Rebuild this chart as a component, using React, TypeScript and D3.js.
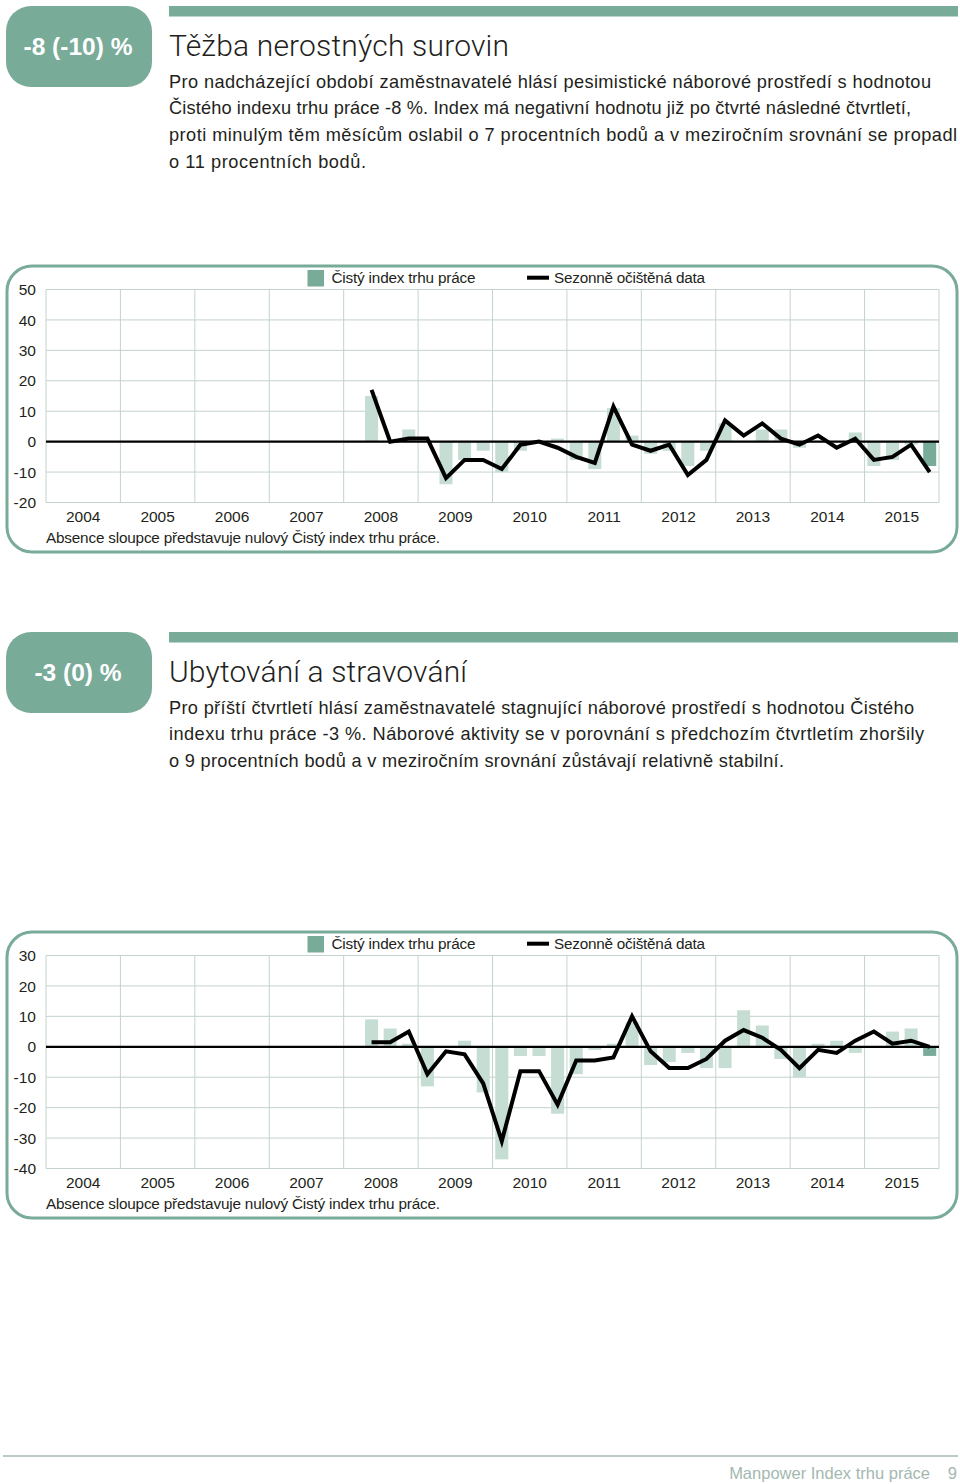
import React from 'react';
import * as d3 from 'd3';

const years = ['2004', '2005', '2006', '2007', '2008', '2009', '2010', '2011', '2012', '2013', '2014', '2015'];
const quarters = ['Q1', 'Q2', 'Q3', 'Q4'];
const quarterKeys = years.flatMap((y) => quarters.map((q) => `${y}${q}`));
const firstQuarter = '2008Q2';

// Section 1 – Těžba nerostných surovin (from 2008 Q2 to 2015 Q4)
const miningBars = [15, 0, 4, 0, -14, -6, -3, -10, -3, 0, 1, -6, -9, 11, 2, -4, -3, -8, -3, 6, 0, 4, 4, -2, 0, 0, 3, -8, -6, -1, -8];
const miningSA = [17, 0, 1, 1, -12, -6, -6, -9, -1, 0, -2, -5, -7, 11.5, -1, -3, -1, -11, -6, 7, 2, 6, 1, -1, 2, -2, 1, -6, -5, -1, -10];
const miningTicks = [50, 40, 30, 20, 10, 0, -10, -20];

// Section 2 – Ubytování a stravování
const hotelBars = [9, 6, 1, -13, 0, 2, -15, -37, -3, -3, -22, -9, -1, 1, 8, -6, -5, -2, -7, -7, 12, 7, -4, -10, 1, 2, -2, 0, 5, 6, -3];
const hotelSA = [1.5, 1.5, 5, -9, -1.5, -2.5, -12, -31, -8, -8, -19, -4.5, -4.5, -3.5, 10, -1.5, -7, -7, -4, 2, 5.5, 3, -1, -7, -1, -2, 2, 5, 1, 2, 0];
const hotelTicks = [30, 20, 10, 0, -10, -20, -30, -40];

const legendBar = 'Čistý index trhu práce';
const legendLine = 'Sezonně očištěná data';
const noteText = 'Absence sloupce představuje nulový Čistý index trhu práce.';

const GREEN = '#79ab99';
const LIGHT = '#c5ddd3';
const GRID = '#c3d3cd';
const TEXT = '#231f20';
const SANS = '"Liberation Sans", Arial, Helvetica, sans-serif';

type ChartProps = {
  top: number;
  ticks: number[];
  bars: number[];
  sa: number[];
};

function Chart({ top, ticks, bars, sa }: ChartProps) {
  const left = 46;
  const right = 939;
  const plotTop = top + 23.5;
  const plotBottom = plotTop + 213;
  const x = d3.scaleBand<string>().domain(quarterKeys).range([left, right]).paddingInner(0.3).paddingOuter(0.15);
  const xYear = d3.scaleBand<string>().domain(years).range([left, right]);
  const y = d3.scaleLinear().domain([d3.min(ticks)!, d3.max(ticks)!]).range([plotBottom, plotTop]);
  const start = quarterKeys.indexOf(firstQuarter);
  const keys = quarterKeys.slice(start);
  const cx = (k: string) => (x(k) ?? 0) + x.bandwidth() / 2;
  const line = d3
    .line<number>()
    .x((_, i) => cx(keys[i]))
    .y((d) => y(d));
  const lastKey = keys[keys.length - 1];
  return (
    <g>
      <rect x={7} y={top} width={950} height={286} rx={25} ry={25} fill="#fff" stroke={GREEN} strokeWidth={3} />
      {ticks.map((t) => (
        <line key={'h' + t} x1={left} x2={right} y1={y(t)} y2={y(t)} stroke={GRID} strokeWidth={1} />
      ))}
      {years.map((yr) => (
        <line key={'v' + yr} x1={xYear(yr)!} x2={xYear(yr)!} y1={plotTop} y2={plotBottom} stroke={GRID} strokeWidth={1} />
      ))}
      <line x1={right} x2={right} y1={plotTop} y2={plotBottom} stroke={GRID} strokeWidth={1} />
      {bars.map((v, i) => {
        const k = keys[i];
        if (v === 0) return null;
        return (
          <rect
            key={'b' + k}
            x={x(k)!}
            width={x.bandwidth()}
            y={Math.min(y(v), y(0))}
            height={Math.abs(y(v) - y(0))}
            fill={k === lastKey ? GREEN : LIGHT}
          />
        );
      })}
      <line x1={left} x2={right} y1={y(0)} y2={y(0)} stroke="#000" strokeWidth={2.2} />
      <path d={line(sa)!} fill="none" stroke="#000" strokeWidth={4} strokeLinejoin="miter" />
      {ticks.map((t) => (
        <text key={'yl' + t} x={36} y={y(t)} dy="0.36em" textAnchor="end" fontSize={15.5} fill={TEXT} fontFamily={SANS}>
          {t}
        </text>
      ))}
      {years.map((yr) => (
        <text key={'xl' + yr} x={xYear(yr)! + xYear.bandwidth() / 2} y={top + 256} textAnchor="middle" fontSize={15.5} fill={TEXT} fontFamily={SANS}>
          {yr}
        </text>
      ))}
      <text x={46} y={top + 276.5} fontSize={15.3} fill={TEXT} fontFamily={SANS} textLength={394} lengthAdjust="spacing">
        {noteText}
      </text>
      <rect x={307.5} y={top + 4} width={16.5} height={16.5} fill={GREEN} />
      <text x={331.5} y={top + 16.8} fontSize={15.3} fill={TEXT} fontFamily={SANS} textLength={144} lengthAdjust="spacing">
        {legendBar}
      </text>
      <line x1={527} x2={549} y1={top + 11.7} y2={top + 11.7} stroke="#000" strokeWidth={4} />
      <text x={554} y={top + 16.8} fontSize={15.3} fill={TEXT} fontFamily={SANS} textLength={151} lengthAdjust="spacing">
        {legendLine}
      </text>
    </g>
  );
}

type HeaderProps = {
  top: number;
  badge: string;
  title: string;
  titleWidth: number;
  lines: string[];
  widths: number[];
};

function Header({ top, badge, title, titleWidth, lines, widths }: HeaderProps) {
  return (
    <g>
      <rect x={169} y={top + 6} width={789} height={10.5} fill={GREEN} />
      <rect x={6} y={top + 6} width={146} height={81} rx={25} ry={25} fill={GREEN} />
      <text x={78} y={top + 55} textAnchor="middle" fontSize={24.5} fontWeight={700} fill="#fff" fontFamily={SANS}>
        {badge}
      </text>
      <text x={169} y={top + 55.5} fontSize={30} fontWeight={300} fill={TEXT} fontFamily="Roboto, sans-serif" textLength={titleWidth} lengthAdjust="spacing">
        {title}
      </text>
      {lines.map((l, i) => (
        <text key={i} x={169} y={top + 87.5 + i * 26.8} fontSize={18.2} fill={TEXT} fontFamily={SANS} textLength={widths[i]} lengthAdjust="spacing">
          {l}
        </text>
      ))}
    </g>
  );
}

const para1 = [
  'Pro nadcházející období zaměstnavatelé hlásí pesimistické náborové prostředí s hodnotou',
  'Čistého indexu trhu práce -8 %. Index má negativní hodnotu již po čtvrté následné čtvrtletí,',
  'proti minulým těm měsícům oslabil o 7 procentních bodů a v meziročním srovnání se propadl',
  'o 11 procentních bodů.',
];
const para1Widths = [762, 742, 788, 197];
const para2 = [
  'Pro příští čtvrtletí hlásí zaměstnavatelé stagnující náborové prostředí s hodnotou Čistého',
  'indexu trhu práce -3 %. Náborové aktivity se v porovnání s předchozím čtvrtletím zhoršily',
  'o 9 procentních bodů a v meziročním srovnání zůstávají relativně stabilní.',
];
const para2Widths = [745, 755, 615];

export default function App() {
  return (
    <svg
      width={960}
      height={1484}
      viewBox="0 0 960 1484"
      style={{ position: 'absolute', left: 0, top: 0, background: '#fff' }}
    >
      <rect x={0} y={0} width={960} height={1484} fill="#fff" />
      <Header top={0} badge="-8 (-10) %" title="Těžba nerostných surovin" titleWidth={340} lines={para1} widths={para1Widths} />
      <Chart top={266} ticks={miningTicks} bars={miningBars} sa={miningSA} />
      <Header top={626} badge="-3 (0) %" title="Ubytování a stravování" titleWidth={298} lines={para2} widths={para2Widths} />
      <Chart top={932} ticks={hotelTicks} bars={hotelBars} sa={hotelSA} />
      <line x1={3} x2={958} y1={1456} y2={1456} stroke="#bccac5" strokeWidth={2} />
      <text x={930} y={1479} textAnchor="end" fontSize={16.5} fill="#a3b8b0" fontFamily={SANS}>
        Manpower Index trhu práce
      </text>
      <text x={957} y={1479} textAnchor="end" fontSize={16.5} fill="#a3b8b0" fontFamily={SANS}>
        9
      </text>
    </svg>
  );
}
